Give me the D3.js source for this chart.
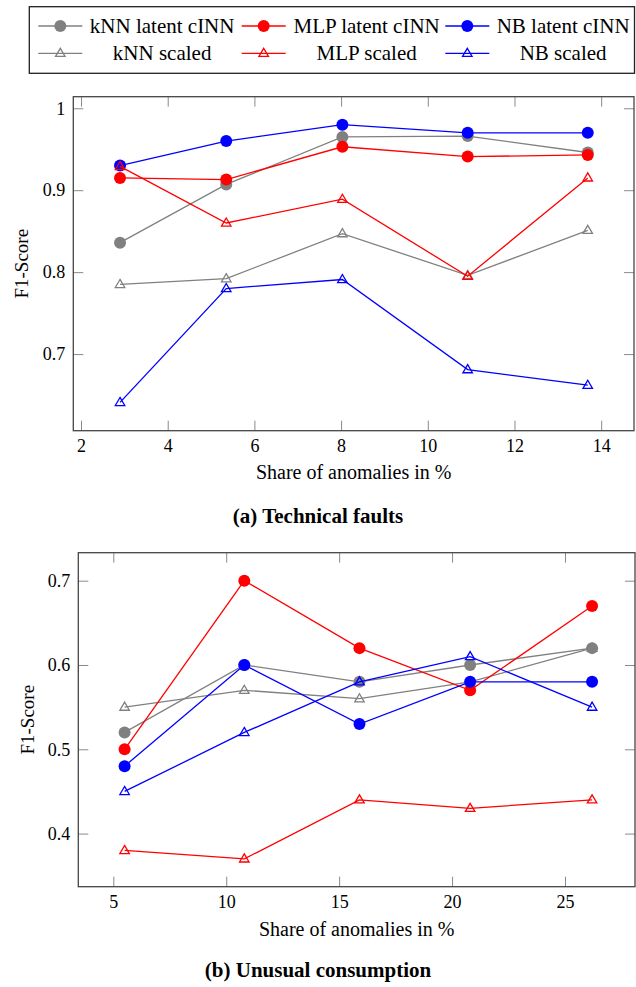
<!DOCTYPE html>
<html><head><meta charset="utf-8">
<script src="https://cdn.jsdelivr.net/npm/d3@7/dist/d3.min.js"></script>
<style>
html,body{margin:0;padding:0;background:#fff;}
svg, svg text{font-family:"Liberation Serif","DejaVu Serif",serif;}
</style></head>
<body><svg id="c" width="636" height="987"></svg>
<script>
// ---------- data ----------
const seriesNames = ["kNN latent cINN","MLP latent cINN","NB latent cINN","kNN scaled","MLP scaled","NB scaled"];
const seriesColors = ["#808080","#ff0000","#0000ff","#808080","#ff0000","#0000ff"];
const seriesMarkers = ["circle","circle","circle","triangle","triangle","triangle"];
const drawOrder = [0, 3, 1, 2, 4, 5];

const techX = [2.9, 5.35, 8.03, 10.92, 13.69];
const techKnnLatent = [0.836, 0.907, 0.965, 0.966, 0.946];
const techMlpLatent = [0.915, 0.913, 0.953, 0.941, 0.943];
const techNbLatent  = [0.930, 0.960, 0.980, 0.970, 0.970];
const techKnnScaled = [0.785, 0.792, 0.847, 0.796, 0.851];
const techMlpScaled = [0.929, 0.860, 0.889, 0.795, 0.915];
const techNbScaled  = [0.641, 0.780, 0.791, 0.681, 0.662];
const techXTicks = [2, 4, 6, 8, 10, 12, 14];
const techYTicks = [0.7, 0.8, 0.9, 1];

const consX = [5.5, 10.8, 15.9, 20.8, 26.2];
const consKnnLatent = [0.52, 0.60, 0.58, 0.60, 0.62];
const consMlpLatent = [0.50, 0.70, 0.62, 0.57, 0.67];
const consNbLatent  = [0.48, 0.60, 0.53, 0.58, 0.58];
const consKnnScaled = [0.55, 0.57, 0.56, 0.58, 0.62];
const consMlpScaled = [0.38, 0.37, 0.44, 0.43, 0.44];
const consNbScaled  = [0.45, 0.52, 0.58, 0.61, 0.55];
const consXTicks = [5, 10, 15, 20, 25];
const consYTicks = [0.4, 0.5, 0.6, 0.7];

const xLabel = "Share of anomalies in %";
const yLabel = "F1-Score";
const captionA = "(a) Technical faults";
const captionB = "(b) Unusual consumption";

// ---------- drawing ----------
const FONT = "Liberation Serif, DejaVu Serif, serif";
const svg = d3.select("#c");
const FRAME = "#454545", TICK = "#8a8a8a";

function marker(g, type, x, y, color) {
  if (type === "circle") {
    g.append("circle").attr("cx", x).attr("cy", y).attr("r", 6).attr("fill", color);
  } else {
    const s = 5;
    g.append("path")
      .attr("d", `M${x},${y - s} L${x + s * 0.95},${y + s * 0.62} L${x - s * 0.95},${y + s * 0.62} Z`)
      .attr("fill", "none").attr("stroke", color).attr("stroke-width", 1.3);
  }
}

function panel(cfg) {
  const {left, right, top, bottom, xDom, yDom, xTicks, yTicks, xs, ys, yLabelX, xLabelY, caption, captionY} = cfg;
  const x = d3.scaleLinear().domain(xDom).range([left, right]);
  const y = d3.scaleLinear().domain(yDom).range([bottom, top]);
  const g = svg.append("g").attr("font-family", FONT);
  const fmt = d => String(+d.toFixed(2));

  const ax = [
    g.append("g").attr("transform", `translate(0,${bottom})`).call(d3.axisBottom(x).tickValues(xTicks).tickSize(-10).tickPadding(9).tickFormat(fmt)),
    g.append("g").attr("transform", `translate(0,${top})`).call(d3.axisTop(x).tickValues(xTicks).tickSize(-10).tickFormat("")),
    g.append("g").attr("transform", `translate(${left},0)`).call(d3.axisLeft(y).tickValues(yTicks).tickSize(-10).tickPadding(8).tickFormat(fmt)),
    g.append("g").attr("transform", `translate(${right},0)`).call(d3.axisRight(y).tickValues(yTicks).tickSize(-10).tickFormat(""))
  ];
  ax.forEach(a => {
    a.attr("font-family", FONT).attr("font-size", 18);
    a.select(".domain").remove();
    a.selectAll(".tick line").attr("stroke", TICK).attr("stroke-width", 1);
    a.selectAll(".tick text").attr("fill", "#000").attr("font-family", FONT).attr("font-size", 18);
  });
  g.append("rect").attr("x", left).attr("y", top).attr("width", right - left).attr("height", bottom - top)
    .attr("fill", "none").attr("stroke", FRAME).attr("stroke-width", 1.3);

  const line = d3.line().x(d => x(d[0])).y(d => y(d[1]));
  drawOrder.forEach(i => {
    const vals = ys[i];
    const pts = xs.map((xv, j) => [xv, vals[j]]);
    const sg = g.append("g");
    sg.append("path").attr("d", line(pts)).attr("fill", "none").attr("stroke", seriesColors[i]).attr("stroke-width", 1.3);
    pts.forEach(p => marker(sg, seriesMarkers[i], x(p[0]), y(p[1]), seriesColors[i]));
  });

  g.append("text").attr("x", (left + right) / 2).attr("y", xLabelY).attr("text-anchor", "middle")
    .attr("dominant-baseline", "central").attr("font-family", FONT).attr("font-size", 20).text(xLabel);
  g.append("text").attr("transform", `translate(${yLabelX},${(top + bottom) / 2}) rotate(-90)`)
    .attr("text-anchor", "middle").attr("dominant-baseline", "central").attr("font-family", FONT).attr("font-size", 19).text(yLabel);
  svg.append("text").attr("x", 318).attr("y", captionY).attr("text-anchor", "middle")
    .attr("dominant-baseline", "central").attr("font-family", FONT).attr("font-size", 21).attr("font-weight", "bold").text(caption);
}

panel({left: 73.3, right: 634, top: 96.7, bottom: 430.7,
  xDom: [1.822, 14.757], yDom: [0.6065, 1.0141], xTicks: techXTicks, yTicks: techYTicks,
  xs: techX, ys: [techKnnLatent, techMlpLatent, techNbLatent, techKnnScaled, techMlpScaled, techNbScaled],
  yLabelX: 21, xLabelY: 472, caption: captionA, captionY: 516});

panel({left: 78.3, right: 635, top: 552.7, bottom: 886.7,
  xDom: [3.45, 28.1], yDom: [0.337, 0.7332], xTicks: consXTicks, yTicks: consYTicks,
  xs: consX, ys: [consKnnLatent, consMlpLatent, consNbLatent, consKnnScaled, consMlpScaled, consNbScaled],
  yLabelX: 27, xLabelY: 929, caption: captionB, captionY: 970});

// ---------- legend ----------
const lg = svg.append("g").attr("font-family", FONT);
lg.append("rect").attr("x", 29.3).attr("y", 6.7).attr("width", 605.2).attr("height", 66.6)
  .attr("fill", "#fff").attr("stroke", "#202020").attr("stroke-width", 1.3);
const colSample = [38.3, 241.7, 445.3];
const colText = [[89.3, 235], [293.3, 440], [497, 629.3]];
const rowY = [26, 53.3];
seriesNames.forEach((name, i) => {
  const c = i % 3, r = Math.floor(i / 3);
  const yy = rowY[r];
  lg.append("line").attr("x1", colSample[c]).attr("x2", colSample[c] + 44).attr("y1", yy).attr("y2", yy)
    .attr("stroke", seriesColors[i]).attr("stroke-width", 1.3);
  marker(lg, seriesMarkers[i], colSample[c] + 22, yy, seriesColors[i]);
  lg.append("text").attr("x", (colText[c][0] + colText[c][1]) / 2).attr("y", yy)
    .attr("text-anchor", "middle").attr("dominant-baseline", "central").attr("font-family", FONT).attr("font-size", 21).text(name);
});
</script></body></html>
